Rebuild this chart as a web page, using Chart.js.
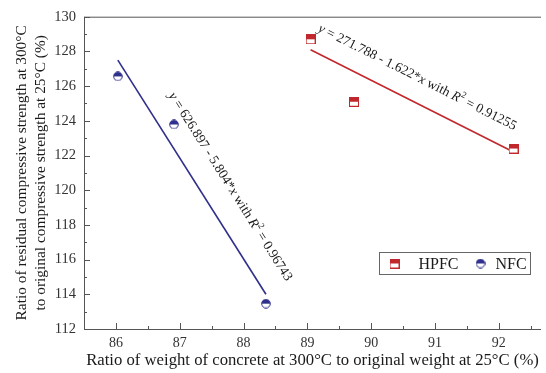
<!DOCTYPE html>
<html>
<head>
<meta charset="utf-8">
<script src="https://cdn.jsdelivr.net/npm/chart.js@4.4.1/dist/chart.umd.min.js"></script>
<style>
  body { margin: 0; background: #fff; }
  #wrap { width: 546px; height: 373px; }
</style>
</head>
<body>
<div id="wrap"><canvas id="chart"></canvas></div>
<script>
// measured points
const hpfcX = [89.05, 89.73, 92.23];
const hpfcY = [128.7, 125.1, 122.4];
const nfcX = [86.03, 86.91, 88.35];
const nfcY = [126.56, 123.79, 113.46];

// fitted lines, end points
const hpfcFitX = [89.05, 92.23];
const hpfcFitY = [128.1, 122.2];
const nfcFitX = [86.03, 88.35];
const nfcFitY = [127.5, 114.0];

// axis ticks
const xTicks = [86, 87, 88, 89, 90, 91, 92];
const xMinor = [86.5, 87.5, 88.5, 89.5, 90.5, 91.5, 92.5];
const yTicks = [112, 114, 116, 118, 120, 122, 124, 126, 128, 130];
const yMinor = [113, 115, 117, 119, 121, 123, 125, 127, 129];

// equation labels: [text, style] with i = italic, n = normal, s = superscript
const hpfcEq = [['y', 'i'], [' = 271.788 - 1.622*', 'n'], ['x', 'i'], [' with ', 'n'], ['R', 'i'], ['2', 's'], [' = 0.91255', 'n']];
const nfcEq = [['y', 'i'], [' = 626.897 - 5.804*', 'n'], ['x', 'i'], [' with ', 'n'], ['R', 'i'], ['2', 's'], [' = 0.96743', 'n']];
const hpfcEqAt = [90.72, 126.5];
const nfcEqAt = [87.79, 120.2];

const RED = '#c0282d';
const BLUE = '#2f2f8c';
const SERIF = '"Liberation Serif", "Times New Roman", serif';

function makeMarker(shape, color) {
    const c = document.createElement('canvas');
    c.width = 10;
    c.height = 10;
    const g = c.getContext('2d');
    g.lineWidth = 1;
    g.strokeStyle = color;
    if (shape === 'square') {
        g.fillStyle = '#fff';
        g.fillRect(0.5, 0.5, 9, 9);
        g.fillStyle = color;
        g.fillRect(0.5, 0.5, 9, 4.5);
        g.strokeRect(0.5, 0.5, 9, 9);
    } else {
        g.beginPath();
        g.arc(5, 5, 4.3, 0, Math.PI * 2);
        g.fillStyle = '#fff';
        g.fill();
        g.beginPath();
        g.arc(5, 5, 4.3, Math.PI, 0);
        g.closePath();
        g.fillStyle = color;
        g.fill();
        g.beginPath();
        g.arc(5, 5, 4.3, 0, Math.PI * 2);
        g.stroke();
    }
    return c;
}

const hpfcMarker = makeMarker('square', RED);
const nfcMarker = makeMarker('circle', BLUE);

function toPoints(xs, ys) {
    return xs.map((x, i) => ({ x: x, y: ys[i] }));
}

function drawEq(ctx, parts, cx, cy, angle) {
    const size = 13.5;
    const fonts = {
        n: size + 'px ' + SERIF,
        i: 'italic ' + size + 'px ' + SERIF,
        s: '9px ' + SERIF,
    };
    let total = 0;
    const widths = parts.map(p => {
        ctx.font = fonts[p[1]];
        const w = ctx.measureText(p[0]).width;
        total += w;
        return w;
    });
    ctx.save();
    ctx.translate(cx, cy);
    ctx.rotate(angle);
    ctx.fillStyle = '#1a1a1a';
    ctx.textBaseline = 'middle';
    let x = -total / 2;
    parts.forEach((p, i) => {
        ctx.font = fonts[p[1]];
        ctx.fillText(p[0], x, p[1] === 's' ? -5 : 0);
        x += widths[i];
    });
    ctx.restore();
}

// ticks, frame, equations and legend
const extras = {
    id: 'extras',
    afterDraw(chart) {
        const ctx = chart.ctx;
        const xs = chart.scales.x;
        const ys = chart.scales.y;
        const a = chart.chartArea;

        ctx.save();
        ctx.strokeStyle = '#555';
        ctx.lineWidth = 1;
        ctx.beginPath();
        ctx.moveTo(a.left + 0.5, a.top + 0.5);
        ctx.lineTo(a.right, a.top + 0.5);
        ctx.moveTo(a.left + 0.5, a.top);
        ctx.lineTo(a.left + 0.5, a.bottom + 0.5);
        ctx.lineTo(a.right, a.bottom + 0.5);
        xTicks.forEach(v => {
            const px = Math.round(xs.getPixelForValue(v)) + 0.5;
            ctx.moveTo(px, a.bottom);
            ctx.lineTo(px, a.bottom - 6);
        });
        xMinor.forEach(v => {
            const px = Math.round(xs.getPixelForValue(v)) + 0.5;
            ctx.moveTo(px, a.bottom);
            ctx.lineTo(px, a.bottom - 3);
        });
        yTicks.forEach(v => {
            const py = Math.round(ys.getPixelForValue(v)) + 0.5;
            ctx.moveTo(a.left, py);
            ctx.lineTo(a.left + 6, py);
        });
        yMinor.forEach(v => {
            const py = Math.round(ys.getPixelForValue(v)) + 0.5;
            ctx.moveTo(a.left, py);
            ctx.lineTo(a.left + 3, py);
        });
        ctx.stroke();
        ctx.restore();

        // equations, rotated along their fit lines
        const redAngle = Math.atan2(
            ys.getPixelForValue(hpfcFitY[1]) - ys.getPixelForValue(hpfcFitY[0]),
            xs.getPixelForValue(hpfcFitX[1]) - xs.getPixelForValue(hpfcFitX[0]));
        const blueAngle = Math.atan2(
            ys.getPixelForValue(nfcFitY[1]) - ys.getPixelForValue(nfcFitY[0]),
            xs.getPixelForValue(nfcFitX[1]) - xs.getPixelForValue(nfcFitX[0]));
        drawEq(ctx, hpfcEq, xs.getPixelForValue(hpfcEqAt[0]), ys.getPixelForValue(hpfcEqAt[1]), redAngle);
        drawEq(ctx, nfcEq, xs.getPixelForValue(nfcEqAt[0]), ys.getPixelForValue(nfcEqAt[1]), blueAngle);

        // legend box
        const bx = a.right - 161.5;
        const by = a.bottom - 76.5;
        ctx.save();
        ctx.strokeStyle = '#666';
        ctx.lineWidth = 1;
        ctx.strokeRect(bx, by, 151, 22);
        ctx.drawImage(hpfcMarker, bx + 10, by + 6);
        ctx.drawImage(nfcMarker, bx + 96, by + 6);
        ctx.font = '16px ' + SERIF;
        ctx.fillStyle = '#1a1a1a';
        ctx.textBaseline = 'middle';
        ctx.fillText('HPFC', bx + 39, by + 12);
        ctx.fillText('NFC', bx + 116, by + 12);
        ctx.restore();
    }
};

const ctx = document.getElementById('chart').getContext('2d');
const chart = new Chart(ctx, {
    type: 'scatter',
    data: {
        datasets: [
            {
                label: 'HPFC',
                data: toPoints(hpfcX, hpfcY),
                pointStyle: hpfcMarker,
                order: 0,
            },
            {
                label: 'NFC',
                data: toPoints(nfcX, nfcY),
                pointStyle: nfcMarker,
                order: 0,
            },
            {
                label: 'HPFC fit',
                type: 'line',
                data: toPoints(hpfcFitX, hpfcFitY),
                borderColor: RED,
                borderWidth: 1.6,
                pointRadius: 0,
                fill: false,
                order: 1,
            },
            {
                label: 'NFC fit',
                type: 'line',
                data: toPoints(nfcFitX, nfcFitY),
                borderColor: BLUE,
                borderWidth: 1.6,
                pointRadius: 0,
                fill: false,
                order: 1,
            },
        ],
    },
    options: {
        responsive: true,
        maintainAspectRatio: false,
        animation: false,
        layout: { padding: { top: 10, right: 0, left: 0, bottom: 0 } },
        plugins: {
            legend: { display: false },
            tooltip: { enabled: false },
        },
        scales: {
            x: {
                type: 'linear',
                min: 85.5,
                max: 92.66,
                grid: { display: false, drawTicks: false },
                border: { display: false },
                afterBuildTicks: s => { s.ticks = xTicks.map(v => ({ value: v })); },
                afterFit: s => { s.height = 44; },
                ticks: {
                    padding: 6,
                    color: '#333',
                    font: { family: SERIF, size: 14 },
                },
                title: {
                    display: true,
                    text: 'Ratio of weight of concrete at 300°C to original weight at 25°C (%)',
                    color: '#1a1a1a',
                    font: { family: SERIF, size: 16.7 },
                    padding: { top: 0, bottom: 2 },
                },
            },
            y: {
                min: 112,
                max: 130,
                grid: { display: false, drawTicks: false },
                border: { display: false },
                afterBuildTicks: s => { s.ticks = yTicks.map(v => ({ value: v })); },
                afterFit: s => { s.width = 84; },
                ticks: {
                    padding: 8,
                    color: '#333',
                    font: { family: SERIF, size: 14.5 },
                },
                title: {
                    display: true,
                    text: ['Ratio of residual compressive strength at 300°C',
                           'to original compressive strength at 25°C (%)'],
                    color: '#1a1a1a',
                    font: { family: SERIF, size: 15.4 },
                    padding: { top: 13, bottom: 0 },
                },
            },
        },
    },
    plugins: [extras],
});
</script>
</body>
</html>
